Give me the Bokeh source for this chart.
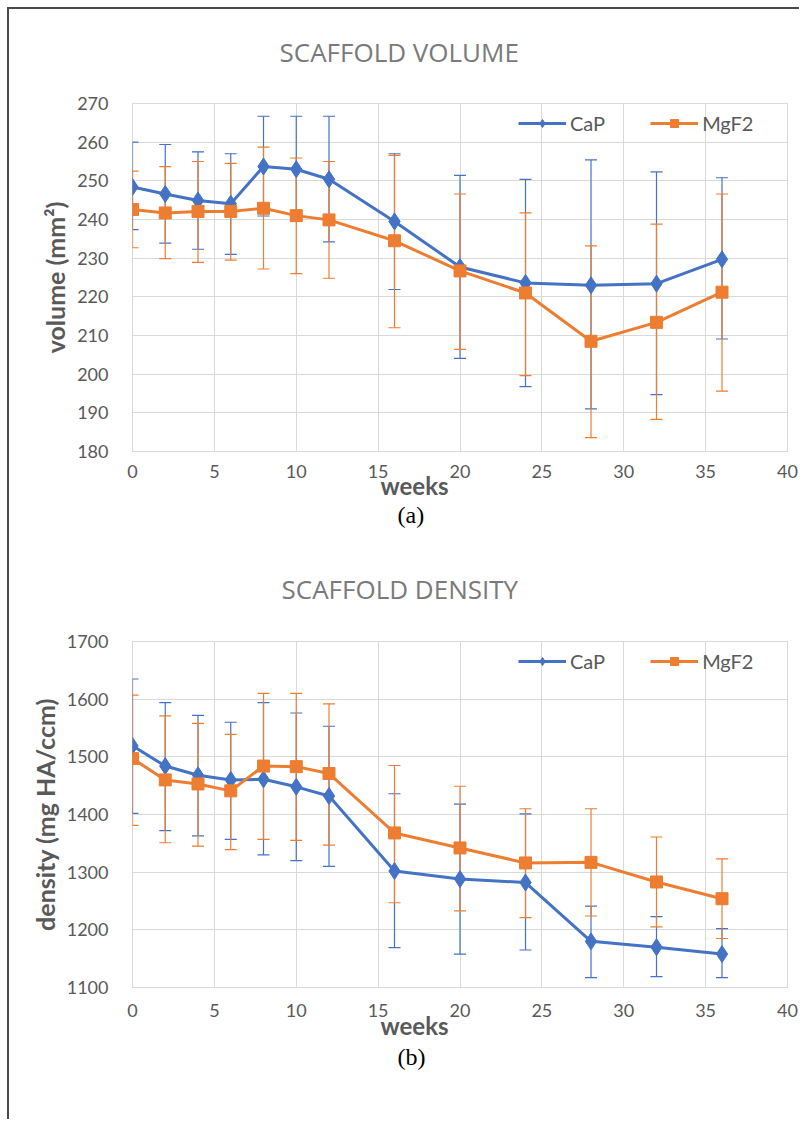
from bokeh.plotting import figure
from bokeh.models import (Title, Legend, LegendItem, SingleIntervalTicker, Range1d)
from bokeh.layouts import column
from bokeh.embed import file_html
from bokeh.resources import INLINE

weeks = [0, 2, 4, 6, 8, 10, 12, 16, 20, 24, 28, 32, 36]

vol_cap = [248.4, 246.6, 244.9, 244.1, 253.7, 253.0, 250.4, 239.5, 227.7, 223.6, 223.0, 223.4, 229.7]
vol_cap_hi = [260.0, 259.4, 257.5, 257.0, 266.7, 266.7, 266.7, 257.0, 251.4, 250.4, 255.4, 252.3, 250.8]
vol_cap_lo = [237.4, 233.9, 232.3, 231.0, 240.9, 239.5, 234.2, 221.9, 204.1, 196.8, 191.0, 194.7, 209.1]
vol_mg = [242.6, 241.7, 242.1, 242.1, 242.9, 241.0, 239.9, 234.5, 226.7, 221.0, 208.5, 213.4, 221.2]
vol_mg_hi = [252.5, 253.7, 255.0, 254.5, 258.7, 255.9, 255.0, 256.6, 246.6, 241.7, 233.2, 238.8, 246.6]
vol_mg_lo = [232.7, 229.9, 228.9, 229.5, 227.2, 226.0, 224.8, 212.0, 206.4, 199.6, 183.6, 188.3, 195.6]

den_cap = [1519, 1484, 1468, 1460, 1461, 1448, 1432, 1302, 1288, 1282, 1180, 1170, 1158]
den_cap_hi = [1635, 1594, 1572, 1560, 1594, 1576, 1553, 1436, 1418, 1401, 1241, 1223, 1202]
den_cap_lo = [1402, 1372, 1363, 1357, 1330, 1320, 1310, 1169, 1158, 1165, 1117, 1119, 1117]
den_mg = [1497, 1460, 1453, 1441, 1484, 1483, 1471, 1368, 1342, 1316, 1317, 1283, 1254]
den_mg_hi = [1607, 1571, 1558, 1539, 1610, 1610, 1592, 1485, 1449, 1410, 1410, 1361, 1323]
den_mg_lo = [1381, 1351, 1345, 1339, 1357, 1355, 1347, 1247, 1233, 1221, 1224, 1205, 1185]

series_names = ["CaP", "MgF2"]
BLUE = "#4472C4"
ORANGE = "#ED7D31"
GRID = "#d9d9d9"
TXT = "#595959"
FONT = "Lato"


def make_chart(title, ylabel, caption, ymin, ymax, ystep, cap, cap_hi, cap_lo,
               mg, mg_hi, mg_lo, height, btop, bbottom, title_off, spacer_s,
               weeks_s, cap_s, leg_y, xstandoff):
    p = figure(width=790, height=height, output_backend="svg", toolbar_location=None,
               x_range=Range1d(0, 40), y_range=Range1d(ymin, ymax),
               min_border_left=123, min_border_right=12,
               min_border_top=btop, min_border_bottom=bbottom)
    p.title = None
    p.outline_line_color = GRID
    p.background_fill_color = "white"
    p.border_fill_color = "white"
    p.xaxis.ticker = SingleIntervalTicker(interval=5)
    p.yaxis.ticker = SingleIntervalTicker(interval=ystep)
    for g in (p.xgrid, p.ygrid):
        g.grid_line_color = GRID
        g.grid_line_width = 1
    for ax in (p.xaxis, p.yaxis):
        ax.major_tick_line_color = None
        ax.minor_tick_line_color = None
        ax.major_tick_out = 0
        ax.major_tick_in = 0
        ax.major_label_text_font = FONT
        ax.major_label_text_font_size = "18px"
        ax.major_label_text_color = TXT
    p.xaxis.axis_line_color = GRID
    p.yaxis.axis_line_color = None
    p.xaxis.major_label_standoff = xstandoff
    p.yaxis.major_label_standoff = 20
    p.yaxis.axis_label = ylabel
    p.yaxis.axis_label_text_font = FONT
    p.yaxis.axis_label_text_font_style = "bold"
    p.yaxis.axis_label_text_font_size = "25px"
    p.yaxis.axis_label_text_color = TXT
    p.yaxis.axis_label_standoff = 4

    # spacer panel right above the frame, then the chart title
    p.add_layout(Title(text=" ", text_font=FONT, text_font_size="10px",
                       standoff=spacer_s), "above")
    p.add_layout(Title(text=title, text_font="Open Sans", text_font_size="26px",
                       text_font_style="normal", text_color="#7a7a7a", align="left",
                       offset=title_off, standoff=0), "above")
    p.add_layout(Title(text="weeks", text_font=FONT, text_font_size="24px",
                       text_font_style="bold", text_color=TXT, align="left",
                       offset=248, standoff=weeks_s), "below")
    p.add_layout(Title(text=caption, text_font="Liberation Serif", text_font_size="24px",
                       text_font_style="normal", text_color="black", align="left",
                       offset=265, standoff=cap_s), "below")

    renderers = []
    for vals, hi, lo, color in ((cap, cap_hi, cap_lo, BLUE), (mg, mg_hi, mg_lo, ORANGE)):
        p.segment(x0=weeks, y0=lo, x1=weeks, y1=hi, line_color=color, line_width=1.2)
        p.scatter(x=weeks, y=hi, marker="dash", size=12, line_color=color, line_width=1.2)
        p.scatter(x=weeks, y=lo, marker="dash", size=12, line_color=color, line_width=1.2)
    for vals, color, marker, msize in ((cap, BLUE, "diamond", 17), (mg, ORANGE, "square", 12)):
        lr = p.line(x=weeks, y=vals, line_color=color, line_width=3)
        sr = p.scatter(x=weeks, y=vals, marker=marker, size=msize, fill_color=color,
                       line_color=color)
        renderers.append([lr, sr])

    legend = Legend(items=[LegendItem(label=series_names[0], renderers=renderers[0]),
                           LegendItem(label=series_names[1], renderers=renderers[1])],
                    orientation="horizontal", location=(386, leg_y),
                    background_fill_alpha=0, border_line_color=None,
                    label_text_font=FONT, label_text_font_size="20px",
                    label_text_color=TXT, glyph_width=48, glyph_height=20,
                    label_standoff=4, spacing=45, padding=0, margin=0)
    p.add_layout(legend)
    return p


p1 = make_chart("SCAFFOLD VOLUME", "volume (mm²)", "(a)", 180, 270, 10,
                vol_cap, vol_cap_hi, vol_cap_lo, vol_mg, vol_mg_hi, vol_mg_lo,
                height=543, btop=94, bbottom=101, title_off=147, spacer_s=20,
                weeks_s=-24, cap_s=25, leg_y=316, xstandoff=9)
p2 = make_chart("SCAFFOLD DENSITY", "density (mg HA/ccm)", "(b)", 1100, 1700, 100,
                den_cap, den_cap_hi, den_cap_lo, den_mg, den_mg_hi, den_mg_lo,
                height=567, btop=89, bbottom=132, title_off=149, spacer_s=21,
                weeks_s=-21, cap_s=24, leg_y=314, xstandoff=12)

layout = column(p1, p2, spacing=0,
                styles={"margin-left": "7px", "margin-top": "7px",
                        "border-left": "2px solid #4a4a4a", "border-top": "2px solid #4a4a4a"})

open("out.html", "w").write(file_html(layout, INLINE))
